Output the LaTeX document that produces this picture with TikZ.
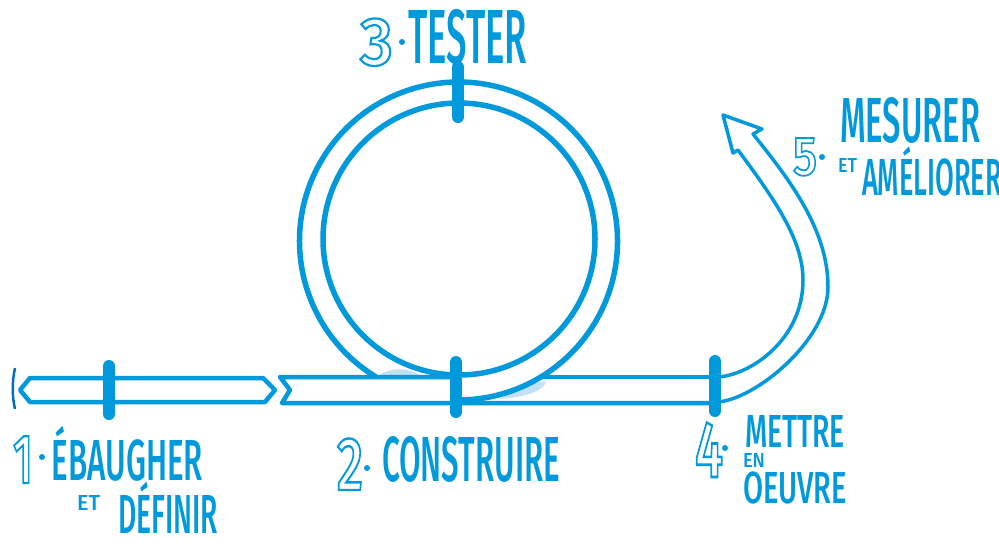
\documentclass[tikz,border=0pt]{standalone}
\usepackage{fontspec}
\usepackage{graphicx}
\newfontfamily\hwfont{Fira Sans Medium}
\definecolor{bl}{RGB}{0,153,219}
\definecolor{bldark}{RGB}{0,110,190}
\definecolor{hl}{RGB}{196,224,244}
\newcommand\hw[3]{\resizebox{#1pt}{#2pt}{\sbox0{\hwfont E}\raisebox{0pt}[\ht0][0pt]{\hwfont #3}}}
\newcommand\outl[1]{\special{pdf:literal direct 1 Tr 0.32 w}#1\special{pdf:literal direct 0 Tr}}
\tikzset{
  pipe/.style={draw=bl, line width=4.5pt, line join=round, line cap=round},
  ring/.style={draw=bl, line width=5.5pt},
  thin pipe/.style={draw=bl, line width=3.5pt, line join=round, line cap=round},
  tick/.style={draw=bl, line width=12pt, line cap=round},
  lbl/.style={inner sep=0pt, outer sep=0pt, text=bl, anchor=base west},
  dotmark/.style={fill=bl}
}
\begin{document}
\begin{tikzpicture}[x=1pt,y=-1pt]
\useasboundingbox (0,0) rectangle (999,539);
% light highlights
\fill[hl] (378,376) .. controls (390,367) and (410,367) .. (420,376) -- cycle;
\fill[hl] (498,399) .. controls (520,398) and (545,392) .. (546,381) .. controls (535,381) and (515,392) .. cycle;
% left partial mark
\draw[bldark, line width=2.5pt] (15,368) .. controls (12,382) and (12,396) .. (15,409);
% segment 1
\draw[pipe] (30,378) -- (263,378) -- (275,390) -- (265,402) -- (30,402) -- (20,390) -- cycle;
% segment 2
\draw[pipe] (458,377) -- (280,377) -- (290,390) -- (282,403) -- (715,403);
\draw[pipe] (541,377) -- (715,377);
% loop
\draw[ring] (459,239) circle (136);
\draw[ring] (458.5,241) ++(121.2:159) arc (121.2:450:159);
% final curved arrow
\draw[thin pipe] (718,377) .. controls (750,375) and (803,340) .. (803,280)
  .. controls (803,240) and (775,200) .. (738,150) -- (733,153) -- (723,115)
  -- (762,129) -- (753,134) .. controls (790,180) and (828,230) .. (828,287)
  .. controls (828,340) and (755,400) .. (717,402);
% ticks
\draw[tick] (109,366) -- (109,414);
\draw[tick] (456,362) -- (456,412);
\draw[tick] (458,67) -- (458,117);
\draw[tick] (715,361) -- (715,411);
% labels
\node[lbl] (d1) at (13,483) {\hw{20}{48}{\outl{1}}};
\fill[dotmark] (42,457) circle (3);
\node[lbl] (t1a) at (52,480) {\hw{151}{40}{ÉBAUGHER}};
\node[lbl] (t1b) at (77,510) {\hw{23}{15}{ET}};
\node[lbl] (t1c) at (118,533) {\hw{100}{38}{DÉFINIR}};
\node[lbl] (d2) at (337,490) {\hw{26}{52}{\outl{2}}};
\fill[dotmark] (367,468) circle (3);
\node[lbl] (t2) at (382,481) {\hw{178}{44}{CONSTRUIRE}};
\node[lbl] (d3) at (360,65) {\hw{33}{47}{\outl{3}}};
\fill[dotmark] (402,42) circle (3);
\node[lbl] (t3) at (408,63) {\hw{119}{53}{TESTER}};
\node[lbl] (d4) at (695,477) {\hw{28}{55}{\outl{4}}};
\fill[dotmark] (725,448) circle (3);
\node[lbl] (t4a) at (745,447) {\hw{100}{32}{METTRE}};
\node[lbl] (t4b) at (743,467) {\hw{22}{14}{EN}};
\node[lbl] (t4c) at (743,503) {\hw{104}{31}{OEUVRE}};
\node[lbl] (d5) at (793,175) {\hw{24}{38}{\outl{5}}};
\fill[dotmark] (822,157) circle (3);
\node[lbl] (t5a) at (840,142) {\hw{140}{44}{MESURER}};
\node[lbl] (t5b) at (838,172) {\hw{19}{14}{ET}};
\node[lbl] (t5c) at (862,195) {\hw{140}{36}{AMÉLIORER}};
\end{tikzpicture}
\end{document}
